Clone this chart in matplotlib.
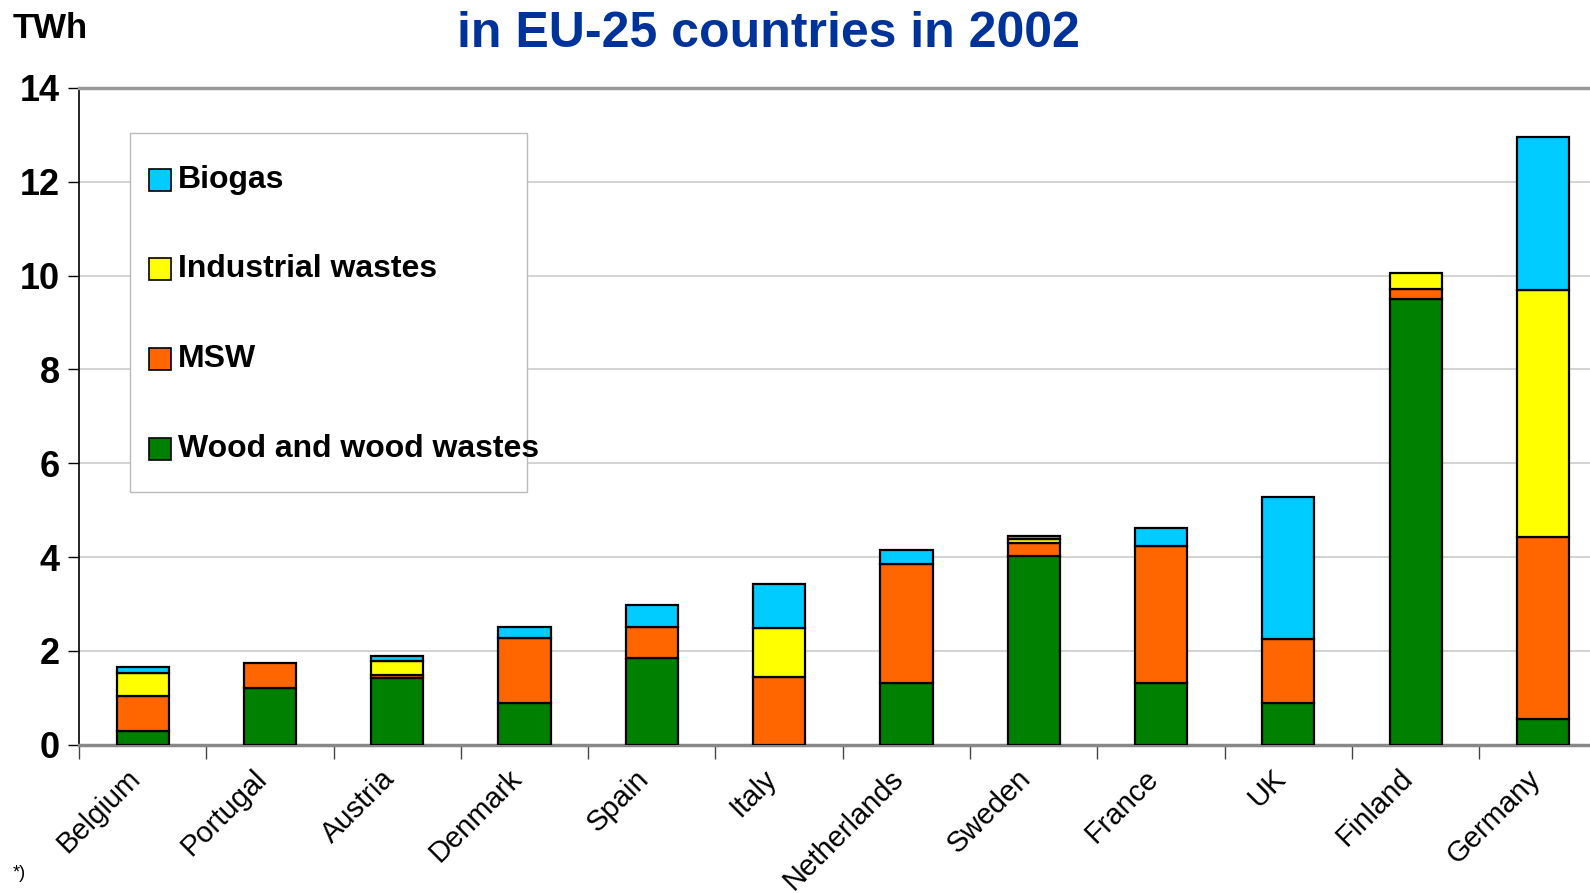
import matplotlib.pyplot as plt
import matplotlib.transforms as mtransforms
import numpy as np
from matplotlib.patches import Rectangle

plt.rcParams['font.family'] = ['Liberation Sans', 'DejaVu Sans']

countries = ["Belgium", "Portugal", "Austria", "Denmark", "Spain", "Italy",
             "Netherlands", "Sweden", "France", "UK", "Finland", "Germany"]

# TWh per source
wood = [0.30, 1.21, 1.42, 0.89, 1.84, 0.00, 1.32, 4.03, 1.32, 0.89, 9.50, 0.54]
msw = [0.74, 0.54, 0.07, 1.38, 0.67, 1.45, 2.53, 0.27, 2.91, 1.36, 0.22, 3.89]
industrial = [0.49, 0.00, 0.30, 0.00, 0.00, 1.03, 0.00, 0.09, 0.00, 0.00, 0.34, 5.27]
biogas = [0.13, 0.00, 0.11, 0.24, 0.47, 0.95, 0.30, 0.06, 0.39, 3.04, 0.00, 3.26]

series = [("Wood and wood wastes", wood, "#008000"),
          ("MSW", msw, "#FF6600"),
          ("Industrial wastes", industrial, "#FFFF00"),
          ("Biogas", biogas, "#00CCFF")]

fig = plt.figure(figsize=(15.9, 8.93), dpi=100)
ax = fig.add_axes([0.0497, 0.166, 0.9503, 0.7355])

x = np.arange(len(countries))
bottom = np.zeros(len(countries))
for name, vals, col in series:
    vals = np.array(vals)
    mask = vals > 0
    ax.bar(x[mask], vals[mask], width=0.41, bottom=bottom[mask], color=col,
           edgecolor="black", linewidth=1.6, zorder=3)
    bottom += vals

ax.set_yticks(range(0, 15, 2))
ax.tick_params(axis="y", labelsize=26, length=8, width=1, direction="out", pad=6)
for lab in ax.get_yticklabels():
    lab.set_fontweight("bold")
ax.yaxis.grid(True, color="#cccccc", linewidth=1.2, zorder=0)

ax.set_xticks(x)
ax.set_xticklabels(countries, rotation=45, ha="right", rotation_mode="anchor",
                   fontsize=21)
ax.tick_params(axis="x", length=0, pad=14)
shift = mtransforms.ScaledTranslation(-17 / 100, 0, fig.dpi_scale_trans)
for lab in ax.get_xticklabels():
    lab.set_transform(lab.get_transform() + shift)
ax.set_xticks(np.arange(-0.5, 12, 1), minor=True)
ax.tick_params(axis="x", which="minor", length=10, width=1, color="#444444")

# limits after the ticks, set_xticks would widen them otherwise
ax.set_ylim(0, 14)
ax.set_xlim(-0.5, 11.37)

ax.spines["left"].set_color("black")
ax.spines["left"].set_linewidth(1.2)
ax.spines["bottom"].set_color("#888888")
ax.spines["bottom"].set_linewidth(2.5)
ax.spines["top"].set_color("#999999")
ax.spines["top"].set_linewidth(2.5)
ax.spines["right"].set_visible(False)

# legend box drawn by hand, text runs past the frame like the original
ax.add_patch(Rectangle((0.0336, 0.3843), 0.263, 0.5477, transform=ax.transAxes,
                       facecolor="white", edgecolor="#bbbbbb", linewidth=1.0,
                       zorder=4))
leg_y = [0.8596, 0.7238, 0.588, 0.4506]
for (name, _, col), yy in zip(series[::-1], leg_y):
    ax.plot([0.0535], [yy], marker="s", markersize=15.5, markerfacecolor=col,
            markeredgecolor="black", markeredgewidth=1.2, linestyle="none",
            transform=ax.transAxes, zorder=5, clip_on=False)
    ax.text(0.0654, yy, name, transform=ax.transAxes, fontsize=23,
            fontweight="bold", va="center", ha="left", zorder=5)

fig.text(0.4834, 0.962, "in EU-25 countries in 2002", ha="center", va="center",
         fontsize=36, fontweight="bold", color="#003399")
fig.text(0.008, 0.968, "TWh", ha="left", va="center", fontsize=25, fontweight="bold")
fig.text(0.008, 0.022, "*)", ha="left", va="center", fontsize=13)

fig.savefig("out.png", dpi=100)
